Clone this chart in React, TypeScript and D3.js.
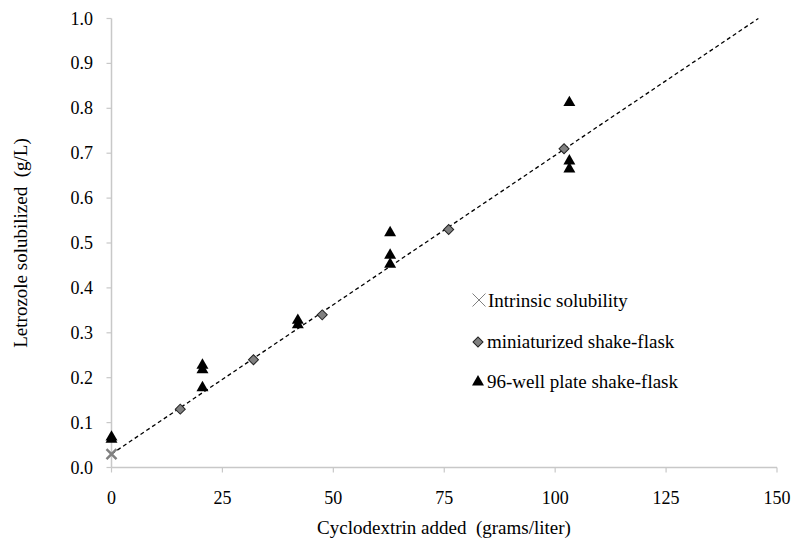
import React from "react";
import * as d3 from "d3";

// Intrinsic solubility (no cyclodextrin)
const intrinsicX = [0];
const intrinsicY = [0.03];

// Miniaturized shake-flask results
const flaskX = [15.5, 32, 47.5, 76, 102];
const flaskY = [0.13, 0.24, 0.34, 0.53, 0.71];

// 96-well plate shake-flask results
const plateX = [0, 0, 20.5, 20.5, 20.5, 42, 42, 62.8, 62.8, 62.8, 103.2, 103.2, 103.2];
const plateY = [0.07, 0.065, 0.23, 0.22, 0.18, 0.33, 0.32, 0.525, 0.475, 0.455, 0.815, 0.685, 0.667];

// Linear trend line end points
const trendX = [0, 145.8];
const trendY = [0.03, 1.0];

const xTicks = [0, 25, 50, 75, 100, 125, 150];
const yTicks = [0, 0.1, 0.2, 0.3, 0.4, 0.5, 0.6, 0.7, 0.8, 0.9, 1.0];

const legendLabels = ["Intrinsic solubility", "miniaturized shake-flask", "96-well plate shake-flask"];

const W = 794;
const H = 547;
const left = 111.5;
const right = 777;
const top = 18.5;
const bottom = 467.5;

export default function App() {
  const x = d3.scaleLinear().domain([0, 150]).range([left, right]);
  const y = d3.scaleLinear().domain([0, 1]).range([bottom, top]);

  const line = d3
    .line<number>()
    .x((d) => x(trendX[d]))
    .y((d) => y(trendY[d]));

  const tri = d3.symbol().type(d3.symbolTriangle).size(62)() as string;
  const diamond = d3.symbol().type(d3.symbolSquare).size(50)() as string;

  const crossMark = (cx: number, cy: number, r: number, sw: number, key?: string) => (
    <g key={key} stroke="#808080" strokeWidth={sw}>
      <line x1={cx - r} y1={cy - r} x2={cx + r} y2={cy + r} />
      <line x1={cx - r} y1={cy + r} x2={cx + r} y2={cy - r} />
    </g>
  );

  return (
    <svg
      width={W}
      height={H}
      fontFamily="Times New Roman, Times, Liberation Serif, serif"
      style={{ position: "absolute", left: 0, top: 0, background: "#fff" }}
    >
      {/* axes */}
      <line x1={left} y1={bottom} x2={right} y2={bottom} stroke="#c8c8c8" strokeWidth={1.5} />
      <line x1={left} y1={bottom} x2={left} y2={top} stroke="#c8c8c8" strokeWidth={1.5} />
      {xTicks.map((t) => (
        <g key={"xt" + t}>
          <line x1={x(t)} x2={x(t)} y1={bottom} y2={bottom + 5} stroke="#c8c8c8" strokeWidth={1.2} />
          <text x={x(t)} y={504} textAnchor="middle" fontSize={18} fill="#000">
            {t}
          </text>
        </g>
      ))}
      {yTicks.map((t) => (
        <g key={"yt" + t}>
          <line x1={left - 5} x2={left} y1={y(t)} y2={y(t)} stroke="#c8c8c8" strokeWidth={1.2} />
          <text x={93} y={y(t) + 6} textAnchor="end" fontSize={18} fill="#000">
            {t.toFixed(1)}
          </text>
        </g>
      ))}

      {/* axis titles */}
      <text x={444} y={534} textAnchor="middle" fontSize={19} fill="#000" style={{ whiteSpace: "pre" }}>
        {"Cyclodextrin added  (grams/liter)"}
      </text>
      <text
        transform={`translate(27,243) rotate(-90)`}
        textAnchor="middle"
        fontSize={19}
        fill="#000"
        style={{ whiteSpace: "pre" }}
      >
        {"Letrozole solubilized  (g/L)"}
      </text>

      {/* trend line */}
      <path d={line([0, 1]) as string} fill="none" stroke="#000" strokeWidth={1.3} strokeDasharray="4,3" />

      {/* 96-well plate */}
      {plateX.map((v, i) => (
        <path key={"p" + i} d={tri} transform={`translate(${x(v)},${y(plateY[i]) + 1})`} fill="#000" />
      ))}

      {/* miniaturized shake-flask */}
      {flaskX.map((v, i) => (
        <path
          key={"f" + i}
          d={diamond}
          transform={`translate(${x(v)},${y(flaskY[i])}) rotate(45)`}
          fill="#808080"
          stroke="#222"
          strokeWidth={1}
        />
      ))}

      {/* intrinsic */}
      {intrinsicX.map((v, i) => crossMark(x(v), y(intrinsicY[i]), 5, 2.5, "i" + i))}

      {/* legend */}
      {crossMark(479, 300, 6.5, 1, "lg0")}
      <text x={488} y={306.5} fontSize={19} fill="#000">
        {legendLabels[0]}
      </text>
      <path d={diamond} transform="translate(478,342) rotate(45)" fill="#808080" stroke="#222" strokeWidth={1} />
      <text x={487} y={348} fontSize={19} fill="#000">
        {legendLabels[1]}
      </text>
      <path d={tri} transform="translate(478,382)" fill="#000" />
      <text x={487} y={388} fontSize={19} fill="#000">
        {legendLabels[2]}
      </text>
    </svg>
  );
}
